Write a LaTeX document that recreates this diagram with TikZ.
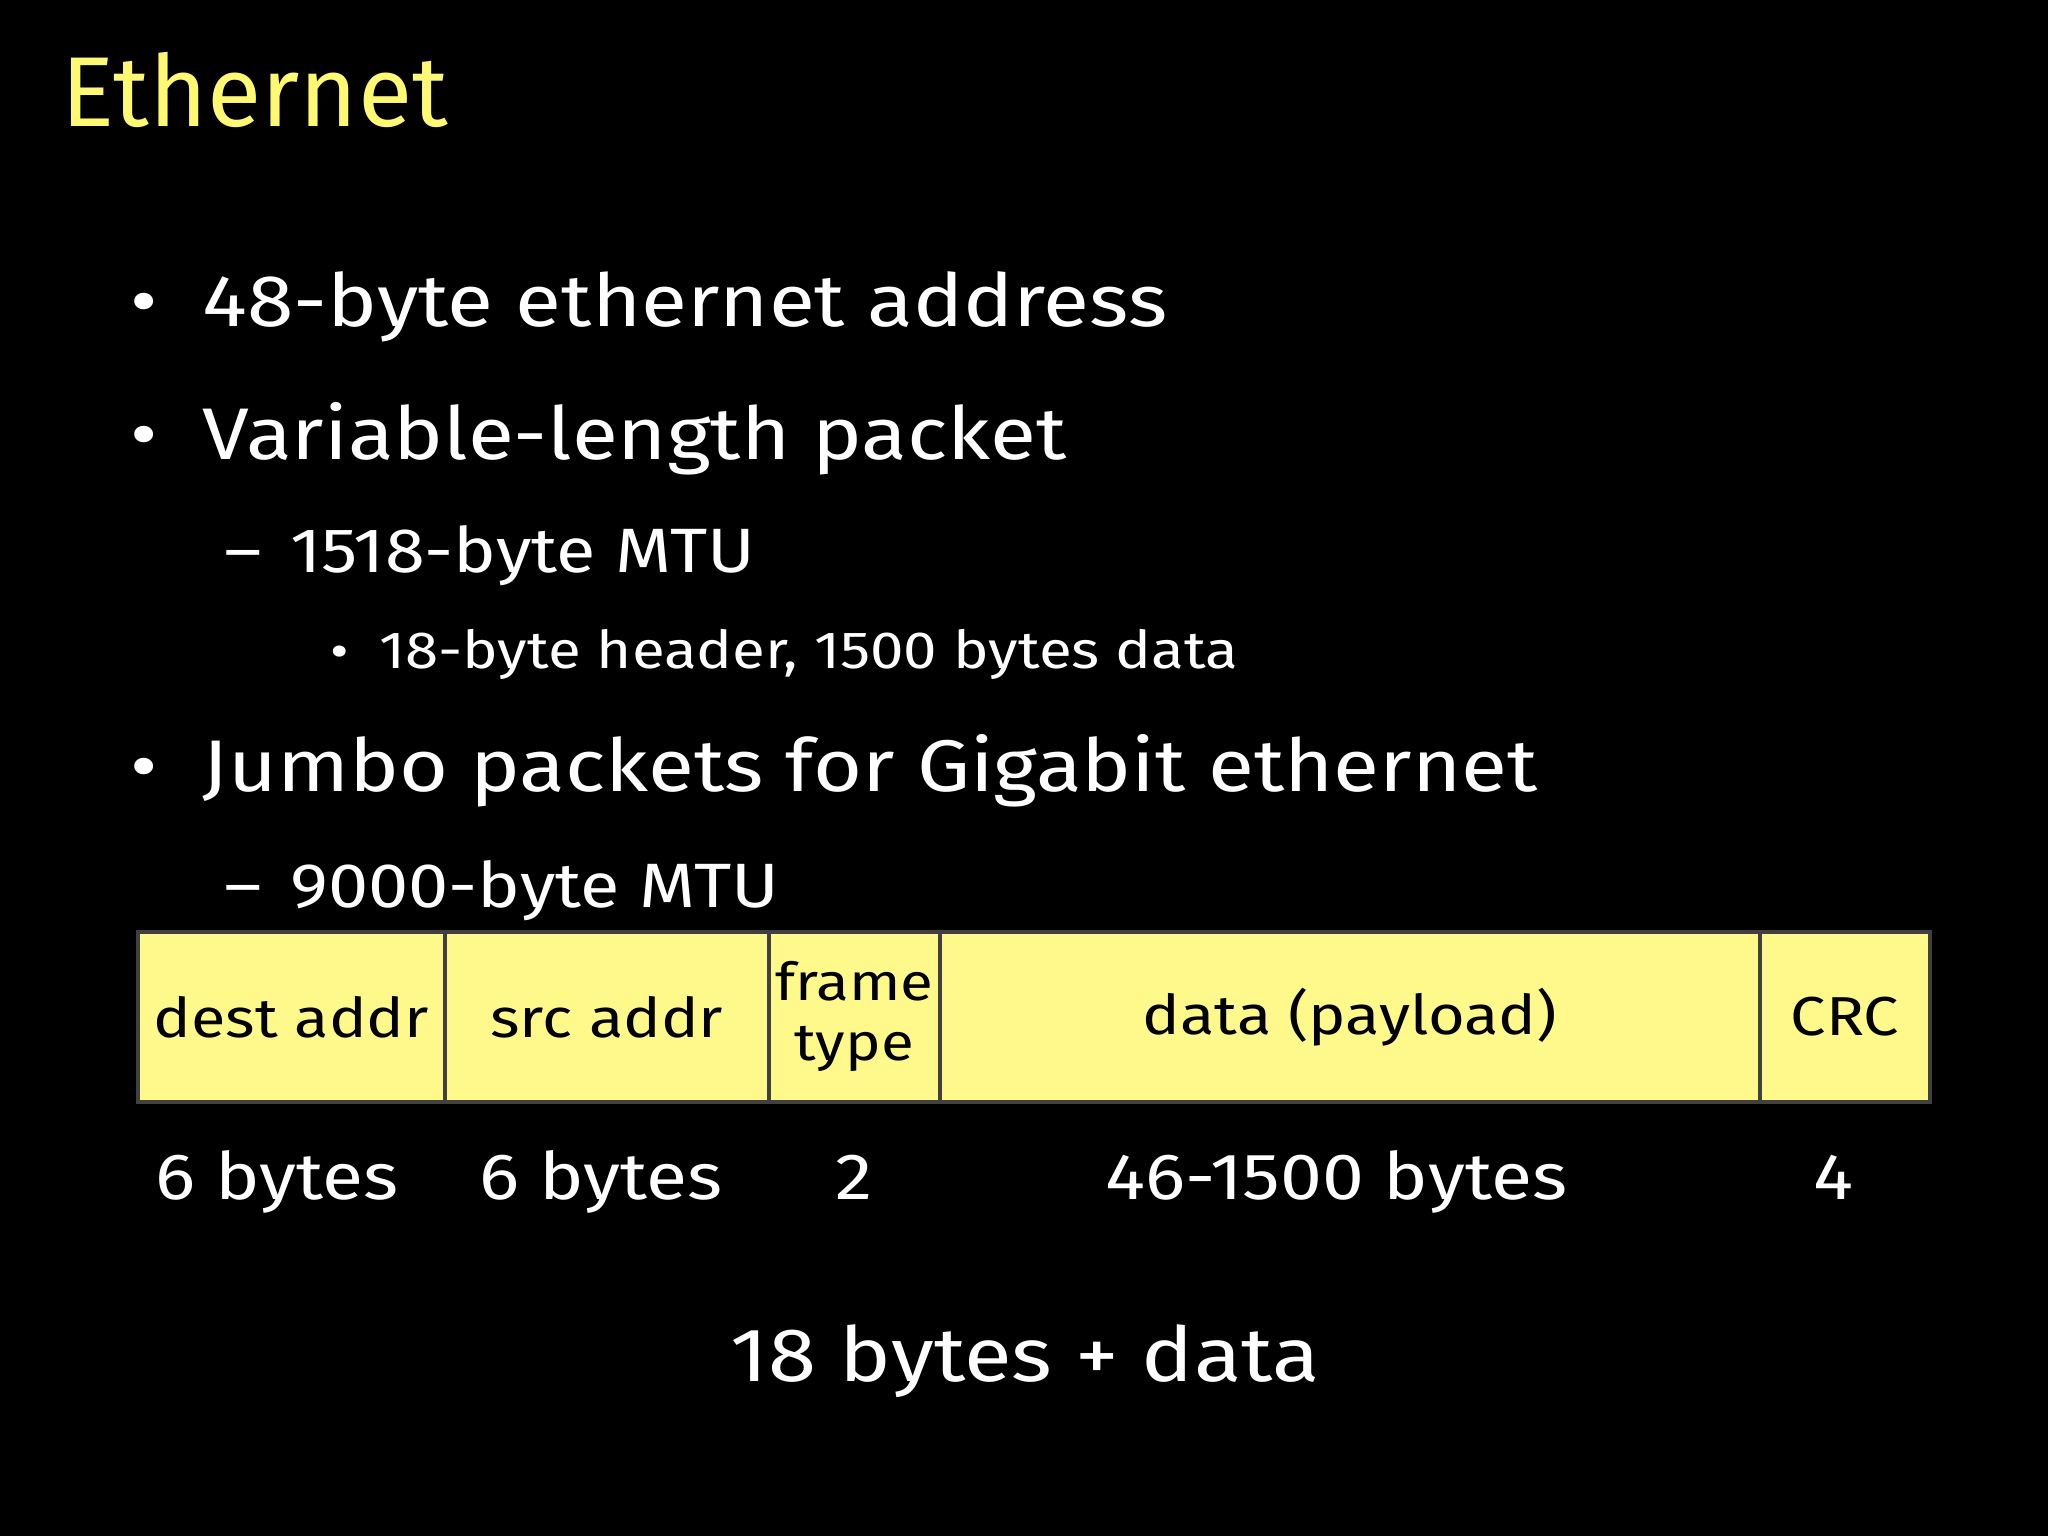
\documentclass[tikz,border=0pt]{standalone}
\usepackage{fontspec}
\setmainfont[FakeStretch=1.15]{Fira Sans}
\newfontfamily\titlefont{Fira Sans}
\begin{document}
\begin{tikzpicture}[x=1pt,y=-1pt,
  txt/.style={text=white,inner sep=0pt,anchor=base west},
  cell/.style={draw=black!75,line width=3pt,fill=yellow!45!white,minimum height=130pt,inner sep=0pt,anchor=north west,font=\fontsize{42}{46}\selectfont,align=center},
  lab/.style={text=white,inner sep=0pt,anchor=base,font=\fontsize{50}{54}\selectfont}]
\fill[black] (0,0) rectangle (1568,1176);
\useasboundingbox (0,0) rectangle (1568,1176);
\node[txt,text=yellow!55!white,font=\titlefont\fontsize{76}{80}\selectfont] (title) at (47,97) {Ethernet};
\node[txt,font=\fontsize{56}{60}\selectfont] (b1d) at (100,250) {•};
\node[txt,font=\fontsize{56}{60}\selectfont] (b1) at (155,250) {48-byte ethernet address};
\node[txt,font=\fontsize{56}{60}\selectfont] (b2d) at (100,352) {•};
\node[txt,font=\fontsize{56}{60}\selectfont] (b2) at (155,352) {Variable-length packet};
\node[txt,font=\fontsize{48}{52}\selectfont] (s1d) at (172,438) {–};
\node[txt,font=\fontsize{48}{52}\selectfont] (s1) at (222,438) {1518-byte MTU};
\node[txt,font=\fontsize{38}{42}\selectfont] (ss1d) at (253,512) {•};
\node[txt,font=\fontsize{40}{44}\selectfont] (ss1) at (290,512) {18-byte header, 1500 bytes data};
\node[txt,font=\fontsize{56}{60}\selectfont] (b3d) at (100,606) {•};
\node[txt,font=\fontsize{56}{60}\selectfont] (b3) at (155,606) {Jumbo packets for Gigabit ethernet};
\node[txt,font=\fontsize{48}{52}\selectfont] (s2d) at (172,695) {–};
\node[txt,font=\fontsize{48}{52}\selectfont] (s2) at (222,695) {9000-byte MTU};
\node[cell,minimum width=235pt] (c1) at (104,712) {dest addr};
\node[cell,minimum width=248pt] (c2) at (339,712) {src addr};
\node[cell,minimum width=131pt] (c3) at (587,712) {\fontsize{40}{46}\selectfont frame\\\fontsize{40}{46}\selectfont type};
\node[cell,minimum width=628pt] (c4) at (718,712) {data (payload)};
\node[cell,minimum width=130pt] (c5) at (1346,712) {CRC};
\node[lab] (l1) at (212,918) {6 bytes};
\node[lab] (l2) at (460,918) {6 bytes};
\node[lab] (l3) at (654,918) {2};
\node[lab] (l4) at (1023,918) {46-1500 bytes};
\node[lab] (l5) at (1404,918) {4};
\node[lab,font=\fontsize{58}{62}\selectfont] (tot) at (785,1058) {18 bytes + data};
\end{tikzpicture}
\end{document}
